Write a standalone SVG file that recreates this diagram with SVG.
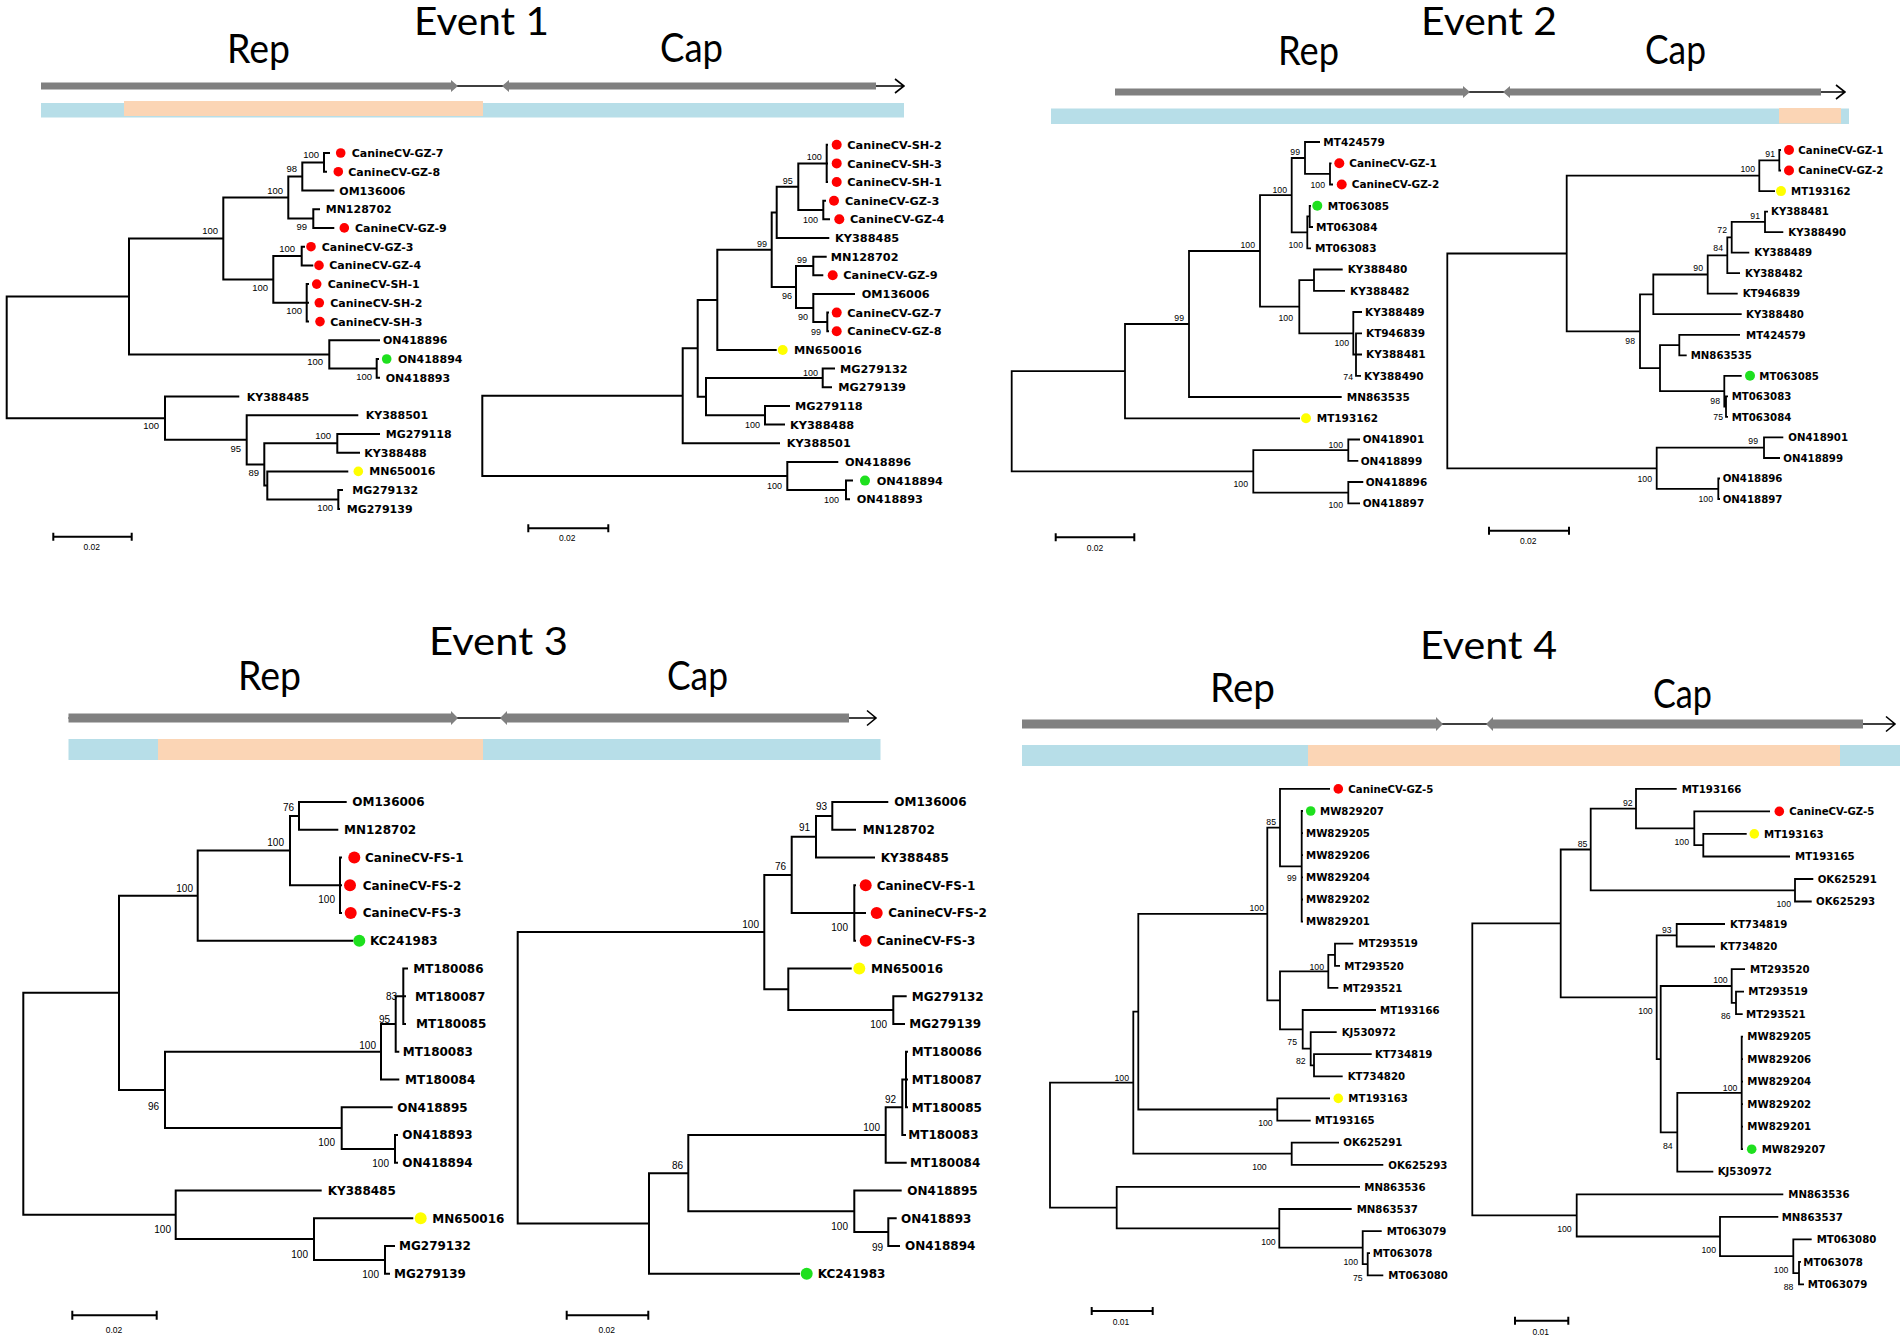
<svg xmlns="http://www.w3.org/2000/svg" width="1902" height="1341" viewBox="0 0 1902 1341">
<defs>
<style>
.br{fill:none;stroke:#000;stroke-width:2;stroke-linejoin:miter}
.br2{fill:none;stroke:#000;stroke-width:1.8;stroke-linejoin:miter}
.tip{font-family:"DejaVu Sans",Verdana,sans-serif;font-weight:bold;fill:#000}
.tA{font-size:11px}.tB{font-size:11.3px}.tC{font-size:10.5px}.tD{font-size:10.2px}.tE{font-size:12px}
.bs{font-family:"Liberation Sans",Arial,sans-serif;text-anchor:end;fill:#000}
.bA{font-size:9.5px}.bB{font-size:9px}.bC{font-size:8.7px}.bE{font-size:10px}
.sb{fill:none;stroke:#000;stroke-width:2}
.sbl{font-family:"Liberation Sans",Arial,sans-serif;font-size:8.5px;text-anchor:middle;fill:#000}
.hd{font-family:Lato,"Open Sans",sans-serif;fill:#000;font-size:39px}
.hs{font-family:Lato,"Open Sans",sans-serif;fill:#000;font-size:41px}
.gb{fill:#808080}
.gl{fill:none;stroke:#000;stroke-width:1.6}
.blue{fill:#b7dee8}
.orng{fill:#fbd5b5}
.red{fill:#ff0000}.grn{fill:#1ee01e}.yel{fill:#ffff00}
</style>
</defs>
<rect width="1902" height="1341" fill="#fff"/>

<!-- ================= EVENT 1 ================= -->
<g id="event1-header">
<text class="hd" x="414" y="35" textLength="135" lengthAdjust="spacingAndGlyphs">Event 1</text>
<text class="hs" x="227" y="63" textLength="63" lengthAdjust="spacingAndGlyphs">Rep</text>
<text class="hs" x="660" y="62" textLength="63" lengthAdjust="spacingAndGlyphs">Cap</text>
<path class="gl" d="M41,86H904 M895,79L904,86L895,93"/>
<polygon class="gb" points="41,82.5 451,82.5 451,80 458,86 451,92 451,89.5 41,89.5"/>
<polygon class="gb" points="502,86 509,80 509,82.5 876,82.5 876,89.5 509,89.5 509,92"/>
<rect class="blue" x="41" y="103" width="863" height="14.5"/>
<rect class="orng" x="124" y="101" width="359" height="15"/>
</g>

<g id="event1-rep-tree">
<g id="e1r-branches"><path class="br" d="M330,153H324V171.7H327 M324,162.4H302.3V190.5H334.3 M320,209.2H313.3V227.9H334.3 M302.3,176.4H288.3V218.6H313.3 M305,246.7H301.7V265.4H313.3 M309,284.1H306.7V321.6H309 M306.7,302.8H309 M301.7,256H273.3V302.8H306.7 M288.3,197.5H223.3V279.4H273.3 M379,359H376.7V377.8H380 M380,340.3H329.3V368.4H376.7 M223.3,238.5H129V354.4H329.3 M380,433.9H337.3V452.7H360 M343,490.1H338.3V508.9H340 M348.3,471.4H267.3V499.5H338.3 M337.3,443.3H264.3V485.5H267.3 M358.3,415.2H246.7V464.4H264.3 M239.3,396.5H165V439.8H246.7 M129,296.4H6.7V418.2H165"/></g>
<g id="e1r-dots">
<circle class="red" cx="340.7" cy="153" r="4.8"/><circle class="red" cx="338.3" cy="171.7" r="4.8"/><circle class="red" cx="344.3" cy="227.9" r="4.8"/><circle class="red" cx="311" cy="246.7" r="4.8"/><circle class="red" cx="319" cy="265.4" r="4.8"/><circle class="red" cx="316.7" cy="284.1" r="4.8"/><circle class="red" cx="319.3" cy="302.8" r="4.8"/><circle class="red" cx="320" cy="321.6" r="4.8"/><circle class="grn" cx="386.7" cy="359" r="4.8"/><circle class="yel" cx="358.3" cy="471.4" r="4.8"/>
</g>
<g id="e1r-labels" class="tip tA">
<text x="351.7" y="157">CanineCV-GZ-7</text><text x="348.3" y="175.7">CanineCV-GZ-8</text><text x="339.3" y="194.5">OM136006</text><text x="325.7" y="213.2">MN128702</text><text x="355" y="231.9">CanineCV-GZ-9</text><text x="321.7" y="250.7">CanineCV-GZ-3</text><text x="329.3" y="269.4">CanineCV-GZ-4</text><text x="327.7" y="288.1">CanineCV-SH-1</text><text x="330.3" y="306.8">CanineCV-SH-2</text><text x="330.3" y="325.6">CanineCV-SH-3</text><text x="383" y="344.3">ON418896</text><text x="398" y="363">ON418894</text><text x="385.7" y="381.8">ON418893</text><text x="246.7" y="400.5">KY388485</text><text x="365.7" y="419.2">KY388501</text><text x="385.7" y="437.9">MG279118</text><text x="364.3" y="456.7">KY388488</text><text x="369.3" y="475.4">MN650016</text><text x="352.3" y="494.1">MG279132</text><text x="346.7" y="512.9">MG279139</text>
</g>
<g id="e1r-bootstrap" class="bs bA">
<text x="319" y="158.3">100</text><text x="297" y="172.3">98</text><text x="283" y="194">100</text><text x="307" y="230.3">99</text><text x="218" y="234.3">100</text><text x="295" y="252.3">100</text><text x="268" y="291">100</text><text x="302" y="314">100</text><text x="323" y="365.3">100</text><text x="372" y="380.3">100</text><text x="159" y="429.3">100</text><text x="241" y="451.6">95</text><text x="259" y="476">89</text><text x="331" y="439.3">100</text><text x="333" y="511">100</text>
</g>
<g id="e1r-scale"><path class="sb" d="M53.3,536.7H131.7 M53.3,532.7V540.7 M131.7,532.7V540.7"/><text class="sbl" x="91.7" y="549.5">0.02</text></g>
</g>

<g id="event1-cap-tree">
<g id="e1c-branches"><path class="br" d="M828,144.7H826.7V182H828 M826.7,163.4H828 M826,200.7H823.3V219.3H830 M826.7,163.4H798.3V210H823.3 M798.3,186.7H776.7V238H829.3 M826.7,256.7H813.3V275.3H823.3 M829,312.6H827.3V331.3H829 M855,294H813.3V322H827.3 M813.3,266H796V308H813.3 M776.7,212.4H771.7V287H796 M771.7,249.7H717.3V350H776.7 M835,368.6H822.7V387.3H832 M790,406H765V424.6H785 M822.7,378H706V415.3H765 M717.3,299.9H697.7V396.7H706 M697.7,348.3H682.7V443.3H780 M853,480.6H846V499.3H850 M838.3,462H787.3V490H846 M682.7,395.8H482.3V476H787.3"/></g>
<g id="e1c-dots">
<circle class="red" cx="836.7" cy="144.7" r="5"/><circle class="red" cx="836.7" cy="163.4" r="5"/><circle class="red" cx="836.7" cy="182" r="5"/><circle class="red" cx="834" cy="200.7" r="5"/><circle class="red" cx="839.3" cy="219.3" r="5"/><circle class="red" cx="832.7" cy="275.3" r="5"/><circle class="red" cx="836.7" cy="312.6" r="5"/><circle class="red" cx="836.7" cy="331.3" r="5"/><circle class="yel" cx="782.7" cy="350" r="5"/><circle class="grn" cx="865" cy="480.6" r="5"/>
</g>
<g id="e1c-labels" class="tip tB">
<text x="847.3" y="148.8">CanineCV-SH-2</text><text x="847.3" y="167.5">CanineCV-SH-3</text><text x="847.3" y="186.1">CanineCV-SH-1</text><text x="845" y="204.8">CanineCV-GZ-3</text><text x="850" y="223.4">CanineCV-GZ-4</text><text x="835" y="242.1">KY388485</text><text x="830.7" y="260.8">MN128702</text><text x="843.3" y="279.4">CanineCV-GZ-9</text><text x="861.7" y="298.1">OM136006</text><text x="847.3" y="316.7">CanineCV-GZ-7</text><text x="847.3" y="335.4">CanineCV-GZ-8</text><text x="794" y="354.1">MN650016</text><text x="840" y="372.7">MG279132</text><text x="838.3" y="391.4">MG279139</text><text x="795" y="410.1">MG279118</text><text x="790" y="428.7">KY388488</text><text x="786.7" y="447.4">KY388501</text><text x="845" y="466.1">ON418896</text><text x="876.7" y="484.7">ON418894</text><text x="856.7" y="503.4">ON418893</text>
</g>
<g id="e1c-bootstrap" class="bs bB">
<text x="821.7" y="160">100</text><text x="792.7" y="184">95</text><text x="818" y="222.6">100</text><text x="767" y="246.6">99</text><text x="807" y="263.3">99</text><text x="792" y="299">96</text><text x="808" y="320">90</text><text x="821" y="335">99</text><text x="818" y="375.6">100</text><text x="760" y="428.3">100</text><text x="782" y="489">100</text><text x="839" y="502.6">100</text>
</g>
<g id="e1c-scale"><path class="sb" d="M528.3,528.3H608.3 M528.3,524.3V532.3 M608.3,524.3V532.3"/><text class="sbl" x="567.3" y="540.5">0.02</text></g>
</g>

<!-- ================= EVENT 2 ================= -->
<g id="event2-header">
<text class="hd" x="1421" y="35" textLength="136" lengthAdjust="spacingAndGlyphs">Event 2</text>
<text class="hs" x="1278" y="65" textLength="61" lengthAdjust="spacingAndGlyphs">Rep</text>
<text class="hs" x="1645" y="64" textLength="61" lengthAdjust="spacingAndGlyphs">Cap</text>
<path class="gl" d="M1115,92H1845 M1836,85L1845,92L1836,99"/>
<polygon class="gb" points="1115,88.5 1463,88.5 1463,86 1470,92 1463,98 1463,95.5 1115,95.5"/>
<polygon class="gb" points="1503,92 1510,86 1510,88.5 1821,88.5 1821,95.5 1510,95.5 1510,98"/>
<rect class="blue" x="1051" y="108.5" width="798" height="15.5"/>
<rect class="orng" x="1779" y="108" width="62" height="15.5"/>
</g>

<g id="event2-rep-tree">
<g id="e2r-branches"><path class="br2" d="M1331.5,163.3H1330V184.5H1333 M1320,142H1305V173.9H1330 M1311,205.8H1309.7V227H1313 M1309.7,216.4H1307.3V248.3H1311 M1305,158H1291.7V232.4H1307.3 M1342.7,269.5H1314V290.8H1345 M1362,333.3H1356V375.8H1361 M1356,354.5H1362 M1362,312H1353.3V354.5H1356 M1314,280.2H1299.3V333.3H1353.3 M1291.7,195.2H1260V306.7H1299.3 M1260,251H1189V397H1341.7 M1189,324H1125V418.3H1300 M1360,439.5H1348.3V460.8H1358.3 M1363.3,482H1348.3V503.3H1360 M1348.3,450.2H1253.3V492.7H1348.3 M1125,371.1H1011.7V471.4H1253.3"/></g>
<g id="e2r-dots">
<circle class="red" cx="1339.3" cy="163.3" r="5"/><circle class="red" cx="1341.7" cy="184.5" r="5"/><circle class="grn" cx="1317.3" cy="205.8" r="5"/><circle class="yel" cx="1306" cy="418.3" r="5"/>
</g>
<g id="e2r-labels" class="tip tC">
<text x="1323.3" y="145.8">MT424579</text><text x="1349.3" y="167.1">CanineCV-GZ-1</text><text x="1351.7" y="188.3">CanineCV-GZ-2</text><text x="1327.7" y="209.6">MT063085</text><text x="1316" y="230.8">MT063084</text><text x="1315" y="252.1">MT063083</text><text x="1347.7" y="273.3">KY388480</text><text x="1350" y="294.6">KY388482</text><text x="1365" y="315.8">KY388489</text><text x="1366" y="337.1">KT946839</text><text x="1366" y="358.3">KY388481</text><text x="1364" y="379.6">KY388490</text><text x="1346.7" y="400.8">MN863535</text><text x="1316.7" y="422.1">MT193162</text><text x="1362.7" y="443.3">ON418901</text><text x="1360.7" y="464.6">ON418899</text><text x="1365.7" y="485.8">ON418896</text><text x="1362.7" y="507.1">ON418897</text>
</g>
<g id="e2r-bootstrap" class="bs bC">
<text x="1300" y="155">99</text><text x="1325" y="188.3">100</text><text x="1287" y="192.6">100</text><text x="1255" y="247.6">100</text><text x="1303" y="247.6">100</text><text x="1293" y="321">100</text><text x="1184" y="321">99</text><text x="1349" y="345.6">100</text><text x="1353" y="380">74</text><text x="1248" y="486.6">100</text><text x="1343" y="447.6">100</text><text x="1343" y="507.6">100</text>
</g>
<g id="e2r-scale"><path class="sb" d="M1055.7,537.3H1134.3 M1055.7,533.3V541.3 M1134.3,533.3V541.3"/><text class="sbl" x="1095" y="551">0.02</text></g>
</g>

<g id="event2-cap-tree">
<g id="e2c-branches"><path class="br2" d="M1781,150H1779.3V170.5H1781 M1779.3,160.3H1759.3V191.1H1775 M1768,211.6H1765V232.1H1783.3 M1765,221.9H1731.7V252.6H1749.3 M1731.7,237.3H1727.3V273.2H1740 M1727.3,255.3H1707.7V293.7H1737.7 M1707.7,274.5H1653.3V314.2H1741.7 M1740,334.8H1679.3V355.3H1686.7 M1728,396.4H1726V416.9H1728 M1741.7,375.8H1724.3V406.7H1726 M1679.3,345.1H1660V391.2H1724.3 M1653.3,294.4H1640V368.2H1660 M1759.3,175.7H1566.7V331.3H1640 M1783.3,437.4H1764V458H1780 M1720,478.5H1718.3V499H1720 M1764,447.7H1656.7V488.8H1718.3 M1566.7,253.5H1447.3V468.3H1656.7"/></g>
<g id="e2c-dots">
<circle class="red" cx="1789" cy="150" r="5"/><circle class="red" cx="1789" cy="170.5" r="5"/><circle class="yel" cx="1781" cy="191.1" r="5"/><circle class="grn" cx="1750" cy="375.8" r="5"/>
</g>
<g id="e2c-labels" class="tip tD">
<text x="1798.3" y="153.7">CanineCV-GZ-1</text><text x="1798.3" y="174.2">CanineCV-GZ-2</text><text x="1791" y="194.8">MT193162</text><text x="1771" y="215.3">KY388481</text><text x="1788.3" y="235.8">KY388490</text><text x="1754.3" y="256.3">KY388489</text><text x="1745" y="276.9">KY388482</text><text x="1742.7" y="297.4">KT946839</text><text x="1746" y="317.9">KY388480</text><text x="1746" y="338.5">MT424579</text><text x="1690.7" y="359">MN863535</text><text x="1759.3" y="379.5">MT063085</text><text x="1731.7" y="400.1">MT063083</text><text x="1731.7" y="420.6">MT063084</text><text x="1788.3" y="441.1">ON418901</text><text x="1783.3" y="461.7">ON418899</text><text x="1722.7" y="482.2">ON418896</text><text x="1722.7" y="502.7">ON418897</text>
</g>
<g id="e2c-bootstrap" class="bs bC">
<text x="1775" y="156.6">91</text><text x="1755" y="171.6">100</text><text x="1760" y="218.6">91</text><text x="1727" y="233.3">72</text><text x="1723" y="251">84</text><text x="1703" y="271">90</text><text x="1635" y="344.3">98</text><text x="1720" y="404.3">98</text><text x="1723" y="420">75</text><text x="1758" y="444.3">99</text><text x="1652" y="481.6">100</text><text x="1713" y="502.3">100</text>
</g>
<g id="e2c-scale"><path class="sb" d="M1489,530.7H1569 M1489,526.7V534.7 M1569,526.7V534.7"/><text class="sbl" x="1528.3" y="543.5">0.02</text></g>
</g>

<!-- ================= EVENT 3 ================= -->
<g id="event3-header">
<text class="hd" x="429" y="655" textLength="139" lengthAdjust="spacingAndGlyphs">Event 3</text>
<text class="hs" x="238" y="690" textLength="63" lengthAdjust="spacingAndGlyphs">Rep</text>
<text class="hs" x="667" y="690" textLength="61" lengthAdjust="spacingAndGlyphs">Cap</text>
<path class="gl" d="M68.5,718H876 M867,710.5L876,718L867,725.5"/>
<polygon class="gb" points="68.5,713.5 451,713.5 451,711 458,718 451,725 451,722.5 68.5,722.5"/>
<polygon class="gb" points="500,718 507,711 507,713.5 849,713.5 849,722.5 507,722.5 507,725"/>
<rect class="blue" x="68.5" y="739" width="812" height="21"/>
<rect class="orng" x="158" y="739" width="325" height="21"/>
</g>

<g id="event3-rep-tree">
<g id="e3r-branches"><path class="br" d="M346.7,802H299V829.75H338.3 M342,857.5H340V913H342 M340,885.25H342 M299,815.9H290V885.25H340 M290,850.6H197.7V940.75H353.3 M408,968.5H403.3V1024H406 M403.3,996.25H406 M403.3,996.25H395.7V1051.75H399.3 M395.7,1024H381V1079.5H399.3 M398,1135H395V1162.75H398 M392.7,1107.25H341.7V1148.9H395 M381,1051.75H165V1128.1H341.7 M197.7,895.7H119V1089.9H165 M395,1246H385V1273.75H390 M413.3,1218.25H314V1259.9H385 M321.7,1190.5H175.7V1239.1H314 M119,992.8H23.3V1214.8H175.7"/></g>
<g id="e3r-dots">
<circle class="red" cx="354.3" cy="857.5" r="6"/><circle class="red" cx="350" cy="885.25" r="6"/><circle class="red" cx="350.7" cy="913" r="6"/><circle class="grn" cx="359.3" cy="940.75" r="6"/><circle class="yel" cx="420.7" cy="1218.25" r="6"/>
</g>
<g id="e3r-labels" class="tip tE">
<text x="352.3" y="806.4">OM136006</text><text x="344" y="834.2">MN128702</text><text x="365" y="861.9">CanineCV-FS-1</text><text x="362.7" y="889.7">CanineCV-FS-2</text><text x="362.7" y="917.4">CanineCV-FS-3</text><text x="370" y="945.2">KC241983</text><text x="413.3" y="972.9">MT180086</text><text x="415" y="1000.7">MT180087</text><text x="416" y="1028.4">MT180085</text><text x="402.7" y="1056.2">MT180083</text><text x="405" y="1083.9">MT180084</text><text x="397.3" y="1111.7">ON418895</text><text x="402.3" y="1139.4">ON418893</text><text x="402.3" y="1167.2">ON418894</text><text x="327.7" y="1194.9">KY388485</text><text x="432.3" y="1222.7">MN650016</text><text x="399" y="1250.4">MG279132</text><text x="394" y="1278.2">MG279139</text>
</g>
<g id="e3r-bootstrap" class="bs bE">
<text x="294" y="811">76</text><text x="284" y="846.3">100</text><text x="193" y="891.6">100</text><text x="335" y="903.4">100</text><text x="397" y="999.7">83</text><text x="390" y="1023.3">95</text><text x="376" y="1048.8">100</text><text x="159" y="1109.8">96</text><text x="335" y="1146.2">100</text><text x="389" y="1167.3">100</text><text x="171" y="1232.6">100</text><text x="308" y="1257.8">100</text><text x="379" y="1278.1">100</text>
</g>
<g id="e3r-scale"><path class="sb" d="M72.3,1315.3H156.7 M72.3,1310.8V1319.8 M156.7,1310.8V1319.8"/><text class="sbl" x="114" y="1333">0.02</text></g>
</g>

<g id="event3-cap-tree">
<g id="e3c-branches"><path class="br" d="M888.3,802H832.3V829.75H856 M832.3,815.9H816V857.5H875 M856,885.25H854.3V940.75H856 M854.3,913H866 M816,836.7H791.7V913H854.3 M906.7,996.25H893.3V1024H905 M851.7,968.5H788.3V1010.1H893.3 M791.7,874.9H764.3V989.3H788.3 M908,1051.75H906V1107.25H908 M906,1079.5H908 M906,1079.5H902.3V1135H906 M902.3,1107.25H885.7V1162.75H906.7 M896.7,1218.25H888.3V1246H900 M901.7,1190.5H854.3V1232.1H888.3 M885.7,1135H688.3V1211.3H854.3 M688.3,1173.2H649V1273.75H800 M764.3,932.1H517.7V1223.5H649"/></g>
<g id="e3c-dots">
<circle class="red" cx="865.7" cy="885.25" r="6"/><circle class="red" cx="876.7" cy="913" r="6"/><circle class="red" cx="865.7" cy="940.75" r="6"/><circle class="yel" cx="859.3" cy="968.5" r="6"/><circle class="grn" cx="806.7" cy="1273.75" r="6"/>
</g>
<g id="e3c-labels" class="tip tE">
<text x="894.3" y="806.4">OM136006</text><text x="862.7" y="834.2">MN128702</text><text x="880.7" y="861.9">KY388485</text><text x="876.7" y="889.7">CanineCV-FS-1</text><text x="888.3" y="917.4">CanineCV-FS-2</text><text x="876.7" y="945.2">CanineCV-FS-3</text><text x="871" y="972.9">MN650016</text><text x="911.7" y="1000.7">MG279132</text><text x="909.3" y="1028.4">MG279139</text><text x="911.7" y="1056.2">MT180086</text><text x="911.7" y="1083.9">MT180087</text><text x="911.7" y="1111.7">MT180085</text><text x="908.3" y="1139.4">MT180083</text><text x="910" y="1167.2">MT180084</text><text x="907.3" y="1194.9">ON418895</text><text x="901" y="1222.7">ON418893</text><text x="905" y="1250.4">ON418894</text><text x="817.7" y="1278.2">KC241983</text>
</g>
<g id="e3c-bootstrap" class="bs bE">
<text x="827" y="810">93</text><text x="810" y="831">91</text><text x="786" y="870">76</text><text x="759" y="928">100</text><text x="848" y="930.6">100</text><text x="887" y="1028">100</text><text x="896" y="1102.6">92</text><text x="880" y="1130.6">100</text><text x="683" y="1169">86</text><text x="848" y="1229.8">100</text><text x="883" y="1250.5">99</text>
</g>
<g id="e3c-scale"><path class="sb" d="M566.7,1315.3H648.3 M566.7,1310.8V1319.8 M648.3,1310.8V1319.8"/><text class="sbl" x="606.7" y="1333">0.02</text></g>
</g>

<!-- ================= EVENT 4 ================= -->
<g id="event4-header">
<text class="hd" x="1420" y="659" textLength="137" lengthAdjust="spacingAndGlyphs">Event 4</text>
<text class="hs" x="1210" y="702" textLength="65" lengthAdjust="spacingAndGlyphs">Rep</text>
<text class="hs" x="1653" y="708" textLength="59" lengthAdjust="spacingAndGlyphs">Cap</text>
<path class="gl" d="M1022,724H1895 M1886,716.5L1895,724L1886,731.5"/>
<polygon class="gb" points="1022,719.5 1436,719.5 1436,717 1443,724 1436,731 1436,728.5 1022,728.5"/>
<polygon class="gb" points="1486,724 1493,717 1493,719.5 1863,719.5 1863,728.5 1493,728.5 1493,731"/>
<rect class="blue" x="1022" y="745" width="878" height="21"/>
<rect class="orng" x="1308" y="745" width="532" height="21"/>
</g>

<g id="event4-rep-tree">
<g id="e4r-branches"><path class="br2" d="M1303,811H1301.7V921.6H1303 M1301.7,833.1H1303 M1301.7,855.2H1303 M1301.7,877.3H1303 M1301.7,899.5H1303 M1330,788.9H1280V866.3H1301.7 M1353.3,943.7H1335V965.8H1340 M1335,954.8H1328.3V987.9H1338.3 M1371.7,1054.2H1314V1076.3H1342.7 M1336.7,1032.1H1310.7V1065.3H1314 M1376,1010H1302.7V1048.7H1310.7 M1328.3,971.3H1280V1029.3H1302.7 M1280,827.6H1267.3V1000.3H1280 M1330,1098.4H1277.3V1120.6H1310.7 M1267.3,913.9H1138.3V1109.5H1277.3 M1339,1142.7H1291.7V1164.8H1383.3 M1138.3,1011.7H1133.3V1153.7H1291.7 M1370,1253.2H1367.7V1275.3H1383.3 M1381.7,1231.1H1362.7V1264.2H1367.7 M1351.7,1209H1279.3V1247.7H1362.7 M1360,1186.9H1116.7V1228.3H1279.3 M1133.3,1082.7H1050V1207.6H1116.7"/></g>
<g id="e4r-dots">
<circle class="red" cx="1338.3" cy="788.9" r="4.8"/><circle class="grn" cx="1310.7" cy="811" r="4.8"/><circle class="yel" cx="1338.3" cy="1098.4" r="4.8"/>
</g>
<g id="e4r-labels" class="tip tD">
<text x="1348.3" y="792.6">CanineCV-GZ-5</text><text x="1320" y="814.7">MW829207</text><text x="1306" y="836.8">MW829205</text><text x="1306" y="858.9">MW829206</text><text x="1306" y="881">MW829204</text><text x="1306" y="903.2">MW829202</text><text x="1306" y="925.3">MW829201</text><text x="1358.3" y="947.4">MT293519</text><text x="1344.3" y="969.5">MT293520</text><text x="1342.7" y="991.6">MT293521</text><text x="1380" y="1013.7">MT193166</text><text x="1341.7" y="1035.8">KJ530972</text><text x="1375" y="1057.9">KT734819</text><text x="1347.7" y="1080">KT734820</text><text x="1348.3" y="1102.1">MT193163</text><text x="1315" y="1124.3">MT193165</text><text x="1343.3" y="1146.4">OK625291</text><text x="1388.3" y="1168.5">OK625293</text><text x="1364.3" y="1190.6">MN863536</text><text x="1356.7" y="1212.7">MN863537</text><text x="1386.7" y="1234.8">MT063079</text><text x="1372.7" y="1256.9">MT063078</text><text x="1388.3" y="1279">MT063080</text>
</g>
<g id="e4r-bootstrap" class="bs bC">
<text x="1276" y="825">85</text><text x="1296.7" y="881.3">99</text><text x="1264" y="911.4">100</text><text x="1324" y="969.6">100</text><text x="1297" y="1045.2">75</text><text x="1305.7" y="1064.1">82</text><text x="1129" y="1080.5">100</text><text x="1272.7" y="1126">100</text><text x="1266.7" y="1169.5">100</text><text x="1275.7" y="1244.8">100</text><text x="1358" y="1264.8">100</text><text x="1362.7" y="1281">75</text>
</g>
<g id="e4r-scale"><path class="sb" d="M1091.7,1310.9H1152.7 M1091.7,1306.9V1314.9 M1152.7,1306.9V1314.9"/><text class="sbl" x="1121" y="1325">0.01</text></g>
</g>

<g id="event4-cap-tree">
<g id="e4c-branches"><path class="br2" d="M1746.7,833.9H1703.3V856.5H1790 M1770,811.4H1694.3V845.2H1703.3 M1676.7,788.9H1636V828.3H1694.3 M1813.3,879H1795V901.5H1811.7 M1636,808.6H1590.7V890.3H1795 M1725,924H1676.7V946.5H1715 M1744,991.6H1736V1014.1H1742.7 M1745,969.1H1731.7V1002.9H1736 M1743,1036.6H1741.7V1149.2H1743 M1741.7,1059.1H1743 M1741.7,1081.7H1743 M1741.7,1104.2H1743 M1741.7,1126.7H1743 M1741.7,1092.9H1677.3V1171.7H1713.3 M1731.7,986H1660.7V1132.3H1677.3 M1676.7,935.3H1656.7V1059.2H1660.7 M1590.7,849.5H1560.7V997.3H1656.7 M1801,1261.8H1799V1284.3H1804 M1811.7,1239.3H1793.3V1273.1H1799 M1778.3,1216.8H1720V1256.2H1793.3 M1783.3,1194.3H1576.7V1236.5H1720 M1560.7,923.4H1472.3V1215.4H1576.7"/></g>
<g id="e4c-dots">
<circle class="red" cx="1779.3" cy="811.4" r="4.8"/><circle class="yel" cx="1754.3" cy="833.9" r="4.8"/><circle class="grn" cx="1751.7" cy="1149.2" r="4.8"/>
</g>
<g id="e4c-labels" class="tip tD">
<text x="1681.7" y="792.6">MT193166</text><text x="1789.3" y="815.1">CanineCV-GZ-5</text><text x="1764" y="837.6">MT193163</text><text x="1795" y="860.2">MT193165</text><text x="1817.7" y="882.7">OK625291</text><text x="1816" y="905.2">OK625293</text><text x="1730" y="927.7">KT734819</text><text x="1720" y="950.2">KT734820</text><text x="1750" y="972.8">MT293520</text><text x="1748.3" y="995.3">MT293519</text><text x="1746" y="1017.8">MT293521</text><text x="1747.3" y="1040.3">MW829205</text><text x="1747.3" y="1062.8">MW829206</text><text x="1747.3" y="1085.4">MW829204</text><text x="1747.3" y="1107.9">MW829202</text><text x="1747.3" y="1130.4">MW829201</text><text x="1761.7" y="1152.9">MW829207</text><text x="1717.7" y="1175.4">KJ530972</text><text x="1788.3" y="1198">MN863536</text><text x="1781.7" y="1220.5">MN863537</text><text x="1816.7" y="1243">MT063080</text><text x="1803.3" y="1265.5">MT063078</text><text x="1807.7" y="1288">MT063079</text>
</g>
<g id="e4c-bootstrap" class="bs bC">
<text x="1587.3" y="847">85</text><text x="1632.7" y="806">92</text><text x="1689" y="845">100</text><text x="1791" y="906.7">100</text><text x="1671.7" y="933.2">93</text><text x="1652.7" y="1014">100</text><text x="1727.7" y="983.4">100</text><text x="1730.7" y="1018.7">86</text><text x="1737.3" y="1091.3">100</text><text x="1672.7" y="1148.8">84</text><text x="1571.7" y="1232.4">100</text><text x="1716" y="1253.1">100</text><text x="1788.3" y="1273.1">100</text><text x="1793.3" y="1289.5">88</text>
</g>
<g id="e4c-scale"><path class="sb" d="M1515,1320.7H1568.3 M1515,1316.7V1324.7 M1568.3,1316.7V1324.7"/><text class="sbl" x="1540.7" y="1335">0.01</text></g>
</g>
</svg>
